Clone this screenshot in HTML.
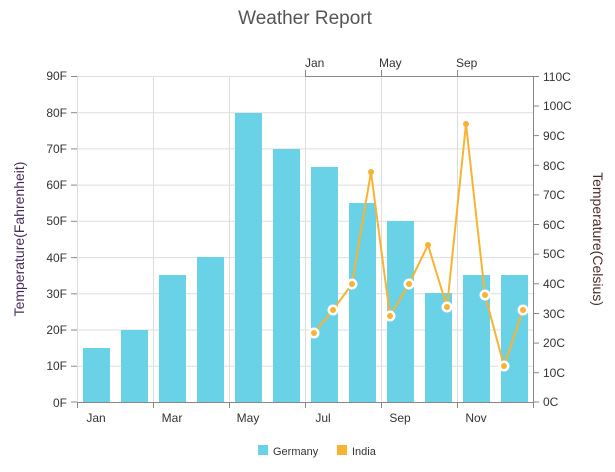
<!DOCTYPE html><html><head><style>body{margin:0;background:#fff}svg{font-family:"Segoe UI","Liberation Sans",sans-serif}</style></head><body>
<svg width="615" height="467" xmlns="http://www.w3.org/2000/svg">
<text x="305" y="24" font-size="19" fill="#555" text-anchor="middle">Weather Report</text>
<g stroke="#ddd" stroke-width="1">
<line x1="77" x2="533" y1="76.5" y2="76.5"/><line x1="77" x2="533" y1="112.7" y2="112.7"/><line x1="77" x2="533" y1="148.9" y2="148.9"/><line x1="77" x2="533" y1="185.1" y2="185.1"/><line x1="77" x2="533" y1="221.3" y2="221.3"/><line x1="77" x2="533" y1="257.6" y2="257.6"/><line x1="77" x2="533" y1="293.8" y2="293.8"/><line x1="77" x2="533" y1="330" y2="330"/><line x1="77" x2="533" y1="366.2" y2="366.2"/>
<line x1="77.5" x2="77.5" y1="76" y2="402"/><line x1="153.5" x2="153.5" y1="76" y2="402"/><line x1="229.5" x2="229.5" y1="76" y2="402"/><line x1="305.5" x2="305.5" y1="76" y2="402"/><line x1="381.5" x2="381.5" y1="76" y2="402"/><line x1="457.5" x2="457.5" y1="76" y2="402"/>
</g>
<g fill="#69d2e7">
<rect x="83" y="348" width="27" height="54"/><rect x="121" y="330" width="27" height="72"/><rect x="159" y="275" width="27" height="127"/><rect x="197" y="257" width="27" height="145"/><rect x="235" y="113" width="27" height="289"/><rect x="273" y="149" width="27" height="253"/><rect x="311" y="167" width="27" height="235"/><rect x="349" y="203" width="27" height="199"/><rect x="387" y="221" width="27" height="181"/><rect x="425" y="293" width="27" height="109"/><rect x="463" y="275" width="27" height="127"/><rect x="501" y="275" width="27" height="127"/>
</g>
<g stroke="#888" stroke-width="1">
<line x1="77" x2="533" y1="402.5" y2="402.5"/><line x1="533.5" x2="533.5" y1="76" y2="402"/><line x1="305" x2="533" y1="76.5" y2="76.5"/>
<line x1="77.5" x2="77.5" y1="402" y2="408"/><line x1="153.5" x2="153.5" y1="402" y2="408"/><line x1="229.5" x2="229.5" y1="402" y2="408"/><line x1="305.5" x2="305.5" y1="402" y2="408"/><line x1="381.5" x2="381.5" y1="402" y2="408"/><line x1="457.5" x2="457.5" y1="402" y2="408"/><line x1="533.5" x2="533.5" y1="402" y2="408"/>
<line x1="305.5" x2="305.5" y1="70" y2="76"/><line x1="381.5" x2="381.5" y1="70" y2="76"/><line x1="457.5" x2="457.5" y1="70" y2="76"/>
</g>
<g font-size="12" fill="#333" text-anchor="end">
<text x="67" y="80">90F</text><text x="67" y="117">80F</text><text x="67" y="153">70F</text><text x="67" y="189">60F</text><text x="67" y="225">50F</text><text x="67" y="262">40F</text><text x="67" y="298">30F</text><text x="67" y="334">20F</text><text x="67" y="370">10F</text><text x="67" y="407">0F</text>
</g>
<g stroke="#888"><line x1="71" x2="77" y1="76.5" y2="76.5"/><line x1="71" x2="77" y1="112.7" y2="112.7"/><line x1="71" x2="77" y1="148.9" y2="148.9"/><line x1="71" x2="77" y1="185.1" y2="185.1"/><line x1="71" x2="77" y1="221.3" y2="221.3"/><line x1="71" x2="77" y1="257.6" y2="257.6"/><line x1="71" x2="77" y1="293.8" y2="293.8"/><line x1="71" x2="77" y1="330" y2="330"/><line x1="71" x2="77" y1="366.2" y2="366.2"/><line x1="71" x2="77" y1="402" y2="402"/>
<line x1="533" x2="539" y1="76.5" y2="76.5"/><line x1="533" x2="539" y1="106" y2="106"/><line x1="533" x2="539" y1="135.6" y2="135.6"/><line x1="533" x2="539" y1="165.3" y2="165.3"/><line x1="533" x2="539" y1="194.9" y2="194.9"/><line x1="533" x2="539" y1="224.5" y2="224.5"/><line x1="533" x2="539" y1="254.2" y2="254.2"/><line x1="533" x2="539" y1="283.8" y2="283.8"/><line x1="533" x2="539" y1="313.5" y2="313.5"/><line x1="533" x2="539" y1="343.1" y2="343.1"/><line x1="533" x2="539" y1="372.7" y2="372.7"/><line x1="533" x2="539" y1="402" y2="402"/></g>
<g font-size="12" fill="#333">
<text x="543" y="81">110C</text><text x="543" y="110">100C</text><text x="543" y="140">90C</text><text x="543" y="170">80C</text><text x="543" y="199">70C</text><text x="543" y="229">60C</text><text x="543" y="258">50C</text><text x="543" y="288">40C</text><text x="543" y="318">30C</text><text x="543" y="347">20C</text><text x="543" y="377">10C</text><text x="543" y="406">0C</text>
<text x="305" y="67">Jan</text><text x="379" y="67">May</text><text x="456" y="67">Sep</text>
</g>
<g font-size="12" fill="#333" text-anchor="middle">
<text x="96" y="422">Jan</text><text x="172" y="422">Mar</text><text x="248" y="422">May</text><text x="323" y="422">Jul</text><text x="400" y="422">Sep</text><text x="476" y="422">Nov</text>
</g>
<text transform="translate(24,239) rotate(-90)" font-size="14" fill="#4a2a5a" text-anchor="middle">Temperature(Fahrenheit)</text>
<text transform="translate(593,239) rotate(90)" font-size="14" fill="#4a2a2a" text-anchor="middle">Temperature(Celsius)</text>
<polyline fill="none" stroke="#f8b333" stroke-width="2" points="314,333 333,310 352,284 371,172 390,316 409,284 428,245 447,307 466,124 485,295 504,366 523,310"/>
<g fill="#fff" stroke="#fff" stroke-width="1"><circle cx="314" cy="333" r="5"/><circle cx="333" cy="310" r="5"/><circle cx="352" cy="284" r="5"/><circle cx="390" cy="316" r="5"/><circle cx="409" cy="284" r="5"/><circle cx="447" cy="307" r="5"/><circle cx="485" cy="295" r="5"/><circle cx="504" cy="366" r="5"/><circle cx="523" cy="310" r="5"/></g>
<g fill="#f8b333"><circle cx="314" cy="333" r="3"/><circle cx="333" cy="310" r="3"/><circle cx="352" cy="284" r="3"/><circle cx="371" cy="172" r="3"/><circle cx="390" cy="316" r="3"/><circle cx="409" cy="284" r="3"/><circle cx="428" cy="245" r="3"/><circle cx="447" cy="307" r="3"/><circle cx="466" cy="124" r="3"/><circle cx="485" cy="295" r="3"/><circle cx="504" cy="366" r="3"/><circle cx="523" cy="310" r="3"/></g>
<rect x="258" y="445" width="10" height="10" fill="#69d2e7"/><text x="273" y="455" font-size="11" fill="#333">Germany</text>
<rect x="337" y="445" width="10" height="10" fill="#f8b333"/><text x="352" y="455" font-size="11" fill="#333">India</text>
</svg></body></html>
